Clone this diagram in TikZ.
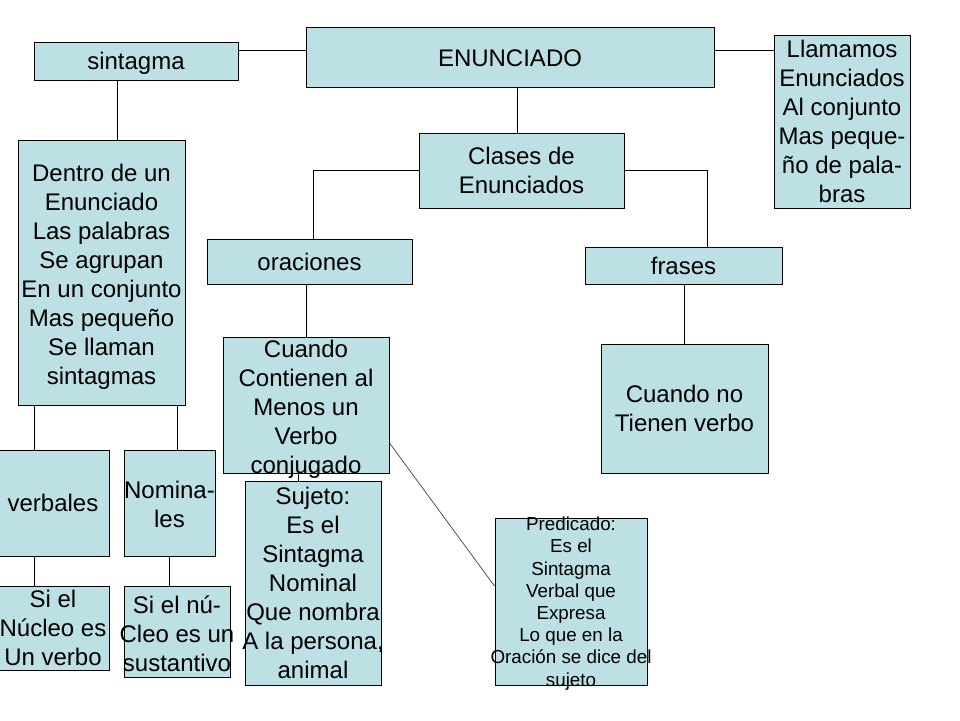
\documentclass[tikz,border=0pt]{standalone}
\usepackage{fontspec}
\setmainfont{Liberation Sans}
\definecolor{boxfill}{RGB}{188,224,228}
\begin{document}
\begin{tikzpicture}[x=1pt,y=-1pt,
  box/.style={draw=black, line width=1pt, fill=boxfill, inner sep=0pt, rectangle},
  big/.style={font=\fontsize{24}{29}\selectfont, align=center},
  small/.style={font=\fontsize{18.8}{22.2}\selectfont, align=center},
  conn/.style={draw=black, line width=1pt}]
\useasboundingbox (0,0) rectangle (960,720);

\node[box, minimum width=204pt, minimum height=38pt, label={[big, yshift=-2.5pt]center:sintagma}] (sintagma) at (136,61) {};
\node[box, minimum width=408pt, minimum height=60pt, label={[big, yshift=-1pt]center:ENUNCIADO}] (enun) at (510,57) {};
\node[box, minimum width=136pt, minimum height=173pt, label={[big]center:Llamamos\\Enunciados\\Al conjunto\\Mas peque-\\ño de pala-\\bras}] (llam) at (842,121.5) {};
\node[box, minimum width=205pt, minimum height=75pt, label={[big]center:Clases de\\Enunciados}] (clases) at (521.5,170.5) {};
\node[box, minimum width=205pt, minimum height=45pt, label={[big]center:oraciones}] (orac) at (309.5,261.5) {};
\node[box, minimum width=197pt, minimum height=37pt, label={[big]center:frases}] (frases) at (683.5,265.5) {};
\node[box, minimum width=167pt, minimum height=265pt, label={[big, yshift=-4pt]center:Dentro de un\\Enunciado\\Las palabras\\Se agrupan\\En un conjunto\\Mas pequeño\\Se llaman\\sintagmas}] (dentro) at (101.5,272.5) {};
\node[box, minimum width=166pt, minimum height=136pt, label={[big, yshift=-4pt]center:Cuando\\Contienen al\\Menos un\\Verbo\\conjugado}] (cuando) at (306,405) {};
\node[box, minimum width=167pt, minimum height=129pt, label={[big]center:Cuando no\\Tienen verbo}] (cuandono) at (684.5,408.5) {};
\node[box, minimum width=136pt, minimum height=204pt, label={[big]center:Sujeto:\\Es el\\Sintagma\\Nominal\\Que nombra\\A la persona,\\animal}] (sujeto) at (313,583) {};
\node[box, minimum width=152pt, minimum height=167pt, label={[small, yshift=-2pt]center:Predicado:\\Es el\\Sintagma\\Verbal que\\Expresa\\Lo que en la\\Oración se dice del\\sujeto}] (pred) at (571,601.5) {};
\node[box, minimum width=112pt, minimum height=106pt, label={[big]center:verbales}] (verbales) at (53,503) {};
\node[box, minimum width=91pt, minimum height=106pt, label={[big, yshift=-1pt]center:Nomina-\\les}] (nomin) at (169.5,503) {};
\node[box, minimum width=112pt, minimum height=84pt, label={[big]center:Si el\\Núcleo es\\Un verbo}] (sinucleo) at (53,628) {};
\node[box, minimum width=106pt, minimum height=91pt, label={[big, yshift=-2pt]center:Si el nú-\\Cleo es un\\sustantivo}] (sinu) at (177,631.5) {};

\draw[conn] ([yshift=11pt]sintagma.east) -- ([yshift=11pt]sintagma.east -| enun.west);
\draw[conn] ([yshift=7pt]enun.east) -- ([yshift=7pt]enun.east -| llam.west);
\draw[conn] ([xshift=7pt]enun.south) -- ([xshift=7pt]enun.south |- clases.north);
\draw[conn] (clases.west) -| ([xshift=3.5pt]orac.north);
\draw[conn] (clases.east) -| ([xshift=23.5pt]frases.north);
\draw[conn] ([xshift=-19pt]sintagma.south) -- ([xshift=-19pt]sintagma.south |- dentro.north);
\draw[conn] (cuando.north) -- (cuando.north |- orac.south);
\draw[conn] (cuandono.north) -- (cuandono.north |- frases.south);
\draw[conn] ([xshift=-8pt]cuando.south) -- ([xshift=-8pt]cuando.south |- sujeto.north);
\draw[conn, line width=0.7pt, black!75] ([yshift=-38pt]cuando.east) -- ([yshift=15.5pt]pred.west);
\draw[conn] ([xshift=-67.5pt]dentro.south) -- ([xshift=-67.5pt]dentro.south |- verbales.north);
\draw[conn] ([xshift=75.5pt]dentro.south) -- ([xshift=75.5pt]dentro.south |- nomin.north);
\draw[conn] ([xshift=-19pt]verbales.south) -- ([xshift=-19pt]verbales.south |- sinucleo.north);
\draw[conn] (nomin.south) -- (nomin.south |- sinu.north);
\end{tikzpicture}
\end{document}
